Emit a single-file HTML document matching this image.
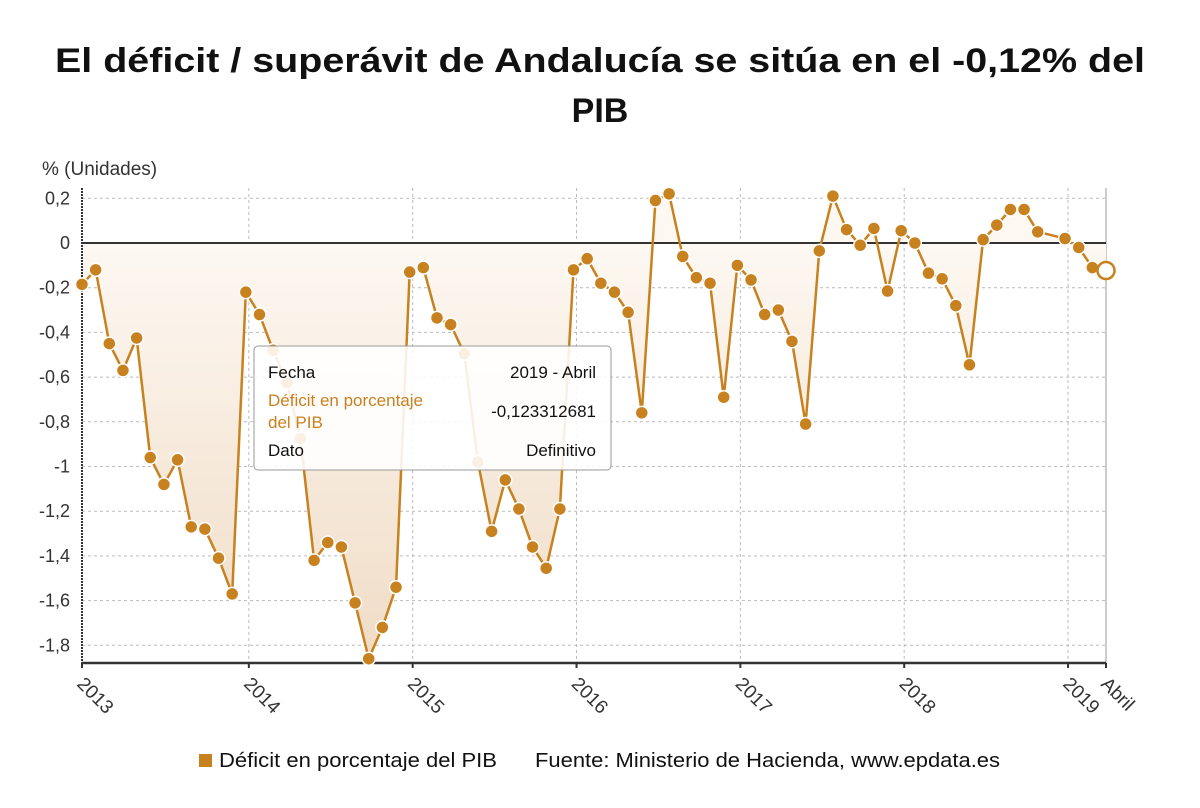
<!DOCTYPE html>
<html><head><meta charset="utf-8"><style>
html,body{margin:0;padding:0;background:#fff;width:1200px;height:808px;overflow:hidden}
svg{display:block;font-family:"Liberation Sans",sans-serif}
</style></head><body>
<svg id="chart" width="1200" height="808" viewBox="0 0 1200 808">
<defs>
<linearGradient id="fillGrad" gradientUnits="userSpaceOnUse" x1="0" y1="243" x2="0" y2="663">
<stop offset="0" stop-color="#fdf8f2"/><stop offset="1" stop-color="#f0dcc6"/>
</linearGradient>
</defs>
<text x="600" y="72" text-anchor="middle" font-size="34" font-weight="bold" fill="#111" textLength="1090" lengthAdjust="spacingAndGlyphs">El déficit / superávit de Andalucía se sitúa en el -0,12% del</text>
<text x="600" y="122" text-anchor="middle" font-size="34" font-weight="bold" fill="#111">PIB</text>
<text x="42" y="175" font-size="19" fill="#333">% (Unidades)</text>
<g id="grid"></g>
<g id="area"></g>
<g id="axes"></g>
<g id="series"></g>
<g id="labels"></g>
<g>
<rect x="254" y="346" width="357" height="124" rx="4" fill="rgba(255,255,255,0.88)" stroke="#999" stroke-width="1"/>
<text x="268" y="378" font-size="17" fill="#111">Fecha</text>
<text x="596" y="378" font-size="17" fill="#111" text-anchor="end">2019 - Abril</text>
<text x="268" y="406" font-size="17" fill="#c8811f">Déficit en porcentaje</text>
<text x="268" y="428" font-size="17" fill="#c8811f">del PIB</text>
<text x="596" y="417" font-size="17" fill="#111" text-anchor="end">-0,123312681</text>
<text x="268" y="456" font-size="17" fill="#111">Dato</text>
<text x="596" y="456" font-size="17" fill="#111" text-anchor="end">Definitivo</text>
</g>
<g>
<rect x="199" y="754" width="13" height="13" fill="#c8811f"/>
<text x="219" y="767" font-size="20" fill="#111" textLength="278" lengthAdjust="spacingAndGlyphs">Déficit en porcentaje del PIB</text>
<text x="535" y="767" font-size="20" fill="#111" textLength="465" lengthAdjust="spacingAndGlyphs">Fuente: Ministerio de Hacienda, www.epdata.es</text>
</g>
</svg>
<script>
const values = [
-0.185,-0.12,-0.45,-0.57,-0.425,-0.96,-1.08,-0.97,-1.27,-1.28,-1.41,-1.57,
-0.22,-0.32,-0.48,-0.625,-0.875,-1.42,-1.34,-1.36,-1.61,-1.86,-1.72,-1.54,
-0.13,-0.11,-0.335,-0.365,-0.495,-0.98,-1.29,-1.06,-1.19,-1.36,-1.455,-1.19,
-0.12,-0.07,-0.18,-0.22,-0.31,-0.76,0.19,0.22,-0.06,-0.155,-0.18,-0.69,
-0.10,-0.165,-0.32,-0.30,-0.44,-0.81,-0.035,0.21,0.06,-0.01,0.065,-0.215,
0.055,0.0,-0.135,-0.16,-0.28,-0.545,0.015,0.08,0.15,0.15,0.05,null,
0.02,-0.02,-0.11,-0.1233
];
const yTicks = [0.2,0,-0.2,-0.4,-0.6,-0.8,-1,-1.2,-1.4,-1.6,-1.8];
const yTickLabels = ["0,2","0","-0,2","-0,4","-0,6","-0,8","-1","-1,2","-1,4","-1,6","-1,8"];
const xTickMonths = [0,12,24,36,48,60,72,75];
const xTickLabels = ["2013","2014","2015","2016","2017","2018","2019","Abril"];

const NS="http://www.w3.org/2000/svg";
const X0=82,X1=1106,YT=188,YB=663;
const x = i => X0 + i*(X1-X0)/75;
const y = v => 243 - v*223.5;
function mk(tag,attrs,parent){const e=document.createElementNS(NS,tag);for(const k in attrs)e.setAttribute(k,attrs[k]);document.getElementById(parent).appendChild(e);return e;}

yTicks.forEach((t,i)=>{
  if(t!==0){
    const g=mk('line',{x1:X0,x2:X1,y1:y(t),y2:y(t),stroke:'#bbb','stroke-dasharray':'3,3','stroke-width':1},'grid');
    
    
  }
  const l=mk('text',{x:70,y:y(t)+6,'text-anchor':'end','font-size':18,fill:'#333'},'labels');
  l.textContent=yTickLabels[i];
  
  
});
xTickMonths.forEach((m,i)=>{
  const off=(i>0&&i<7)?3:0;
  const xp=x(m)+off;
  if(i>0){
    const g=mk('line',{x1:xp,x2:xp,y1:YT,y2:YB,stroke:i===7?'#999':'#bbb','stroke-dasharray':i===7?'':'3,3','stroke-width':1},'grid');
    
    
  }
  const tk=mk('line',{x1:xp,x2:xp,y1:YB,y2:YB+5,stroke:'#333','stroke-width':2},'axes');
  
  
  const l=mk('text',{x:0,y:0,'font-size':19,fill:'#333',transform:`translate(${xp-6},${YB+22}) rotate(45)`},'labels');
  l.textContent=xTickLabels[i];
  
  
});

const pts=[];values.forEach((v,i)=>{if(v!==null)pts.push([x(i),y(v)]);});
let d='M'+pts[0][0]+','+y(0);pts.forEach(p=>d+=' L'+p[0]+','+p[1]);d+=' L'+pts[pts.length-1][0]+','+y(0)+' Z';
const ar=mk('path',{d:d,fill:'url(#fillGrad)'},'area');



const a1=mk('line',{x1:X0,x2:X0,y1:YT,y2:YB,stroke:'#333','stroke-width':2,'stroke-dasharray':'2,1'},'axes');


const a2=mk('line',{x1:X0,x2:X1,y1:YB,y2:YB,stroke:'#333','stroke-width':2.5},'axes');


const a3=mk('line',{x1:X0,x2:X1,y1:y(0),y2:y(0),stroke:'#333','stroke-width':2},'axes');



const ln=mk('polyline',{points:pts.map(p=>p.join(',')).join(' '),fill:'none',stroke:'#c8811f','stroke-width':2.5,'stroke-linejoin':'round'},'series');


values.forEach((v,i)=>{
  if(v===null)return;
  const last=i===values.length-1;
  const c=mk('circle',{cx:x(i),cy:y(v),r:last?8.5:6.5,fill:last?'#fff':'#c8811f',stroke:last?'#c8811f':'#fff','stroke-width':last?2.5:1.5},'series');
  
  
});
</script>
</body></html>
